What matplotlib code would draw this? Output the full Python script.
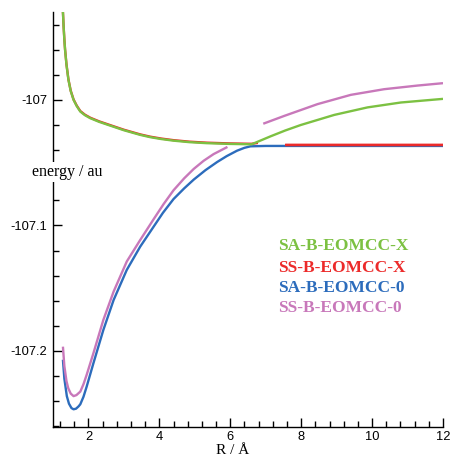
import numpy as np
import matplotlib
matplotlib.use("Agg")
import matplotlib.pyplot as plt
from matplotlib.ticker import MultipleLocator, FixedLocator, FixedFormatter

plt.rcParams['axes.unicode_minus'] = False

# SA-B-EOMCC-X (green)
r_sa_x = [1.26, 1.28, 1.30, 1.32, 1.34, 1.38, 1.435, 1.50, 1.58, 1.67, 1.77, 1.90, 2.05, 2.30, 2.56, 3.0, 3.46, 3.74,
          4.05, 4.4, 4.85, 5.34, 6.0, 6.6, 7.14, 7.55, 7.99, 8.93, 9.87, 10.81, 12.0]
e_sa_x = [-106.915, -106.930, -106.942, -106.952, -106.960, -106.972, -106.984, -106.993, -107.000, -107.005, -107.0093,
          -107.0122, -107.0146, -107.0175, -107.0200, -107.0242, -107.0279, -107.0297,
          -107.0312, -107.0325, -107.0337, -107.0345, -107.0351, -107.0354, -107.0290, -107.0244, -107.0200,
          -107.0120, -107.0060, -107.0021, -106.9992]

# SS-B-EOMCC-X (red); NaN marks the gap between the two branches
r_ss_x = [1.26, 1.28, 1.30, 1.32, 1.34, 1.38, 1.435, 1.50, 1.58, 1.67, 1.77, 1.90, 2.05, 2.30, 2.56, 3.0, 3.46, 3.74,
          4.05, 4.4, 4.85, 5.34, 6.0, 6.6, 6.78, 7.1, 7.55, 9.0, 10.5, 12.0]
e_ss_x = [-106.915, -106.930, -106.9417, -106.9517, -106.9597, -106.9717, -106.9837, -106.9927, -106.9997, -107.0046,
          -107.0089, -107.0118, -107.0142, -107.0171, -107.0196, -107.0238, -107.0275, -107.0293,
          -107.0308, -107.0321, -107.0333, -107.0341, -107.0347, -107.0350, -107.0343, np.nan,
          -107.0359, -107.0359, -107.0359, -107.0359]

# SA-B-EOMCC-0 (blue)
r_sa_0 = [1.28, 1.32, 1.39, 1.45, 1.52, 1.58, 1.65, 1.72, 1.77, 1.86, 1.95, 2.14, 2.42, 2.71, 3.08, 3.46, 3.85, 4.1,
          4.4, 4.7, 4.97, 5.3, 5.63, 5.9, 6.19, 6.4, 6.57, 7.0, 8.0, 9.0, 10.0, 11.0, 12.0]
e_sa_0 = [-107.207, -107.222, -107.236, -107.242, -107.2455, -107.2465, -107.246, -107.2442, -107.2425, -107.2365,
          -107.2284, -107.2098, -107.1833, -107.1594, -107.1355, -107.1169, -107.1005, -107.0900,
          -107.0790, -107.0705, -107.0635, -107.0560, -107.0495, -107.0448, -107.0405, -107.0382, -107.0370,
          -107.0367, -107.0367, -107.0367, -107.0367, -107.0367, -107.0367]

# SS-B-EOMCC-0 (pink); NaN marks the gap between the two branches
r_ss_0 = [1.28, 1.32, 1.38, 1.43, 1.50, 1.58, 1.66, 1.77, 1.86, 1.95, 2.14, 2.42, 2.71, 3.08, 3.46, 3.84, 4.12, 4.4,
          4.7, 4.97, 5.25, 5.53, 5.92, 6.4, 6.93, 7.52, 8.46, 9.4, 10.34, 11.28, 12.0]
e_ss_0 = [-107.1966, -107.212, -107.224, -107.2297, -107.234, -107.236, -107.2352, -107.2324, -107.2265, -107.219,
          -107.2018, -107.1753, -107.1527, -107.1288, -107.1116, -107.0950, -107.0830, -107.0720,
          -107.0625, -107.0550, -107.0485, -107.0432, -107.0375, np.nan, -107.0190, -107.0128, -107.0034,
          -106.9960, -106.9915, -106.9886, -106.9867]

labels = ["SA-B-EOMCC-X", "SS-B-EOMCC-X", "SA-B-EOMCC-0", "SS-B-EOMCC-0"]
colors = ["#7cc142", "#ec2a2a", "#2c6cbc", "#c878ba"]

y_ticks = [-107.2, -107.1, -107.0]
y_tick_labels = ["-107.2", "-107.1", "-107"]
x_ticks = [2, 4, 6, 8, 10, 12]

fig = plt.figure(figsize=(4.5, 4.58), dpi=100)
ax = fig.add_axes([53/450, 31/458, 390/450, 415/458])

kw = dict(lw=1.7, solid_joinstyle="round", solid_capstyle="butt")
split = r_ss_x.index(7.55)
ax.plot(r_ss_x, e_ss_x, color=colors[1], zorder=2, **kw)
ax.plot(r_sa_0, e_sa_0, color=colors[2], zorder=1, **kw)
ax.plot(r_ss_x[split:], e_ss_x[split:], color=colors[1], zorder=3, **kw)
ax.plot(r_sa_x, e_sa_x, color=colors[0], zorder=4, **kw)
ax.plot(r_ss_0, e_ss_0, color=colors[3], zorder=3, **kw)

ax.set_xlim(1, 12)
ax.set_ylim(-107.2606, -106.930)

for s in ["top", "right"]:
    ax.spines[s].set_visible(False)
for s in ["left", "bottom"]:
    ax.spines[s].set_linewidth(1.0)

ax.xaxis.set_major_locator(FixedLocator(x_ticks))
ax.xaxis.set_minor_locator(MultipleLocator(0.4))
ax.yaxis.set_major_locator(FixedLocator(y_ticks))
ax.yaxis.set_major_formatter(FixedFormatter(y_tick_labels))
ax.yaxis.set_minor_locator(MultipleLocator(0.02))

ax.tick_params(axis='both', which='both', direction='in', width=1.0)
ax.tick_params(axis='x', which='major', length=6.5, pad=3)
ax.tick_params(axis='x', which='minor', length=4.3)
ax.tick_params(axis='y', which='major', length=6.5, pad=4)
ax.tick_params(axis='y', which='minor', length=4.3)
for lab in ax.get_xticklabels() + ax.get_yticklabels():
    lab.set_fontfamily("Liberation Sans")
    lab.set_fontsize(9.3)

fig.text(233/450, 1 - 451/458, "R / Å", ha="center", va="center",
         family="Liberation Serif", fontsize=11)
fig.text(67/450, 1 - 172/458, "energy / au", ha="center", va="center",
         family="Liberation Serif", fontsize=11.5,
         bbox=dict(facecolor="white", edgecolor="none", pad=1.5), zorder=10)

ys = [246, 268, 288, 308]
for lab, col, yy in zip(labels, colors, ys):
    fig.text(278/450, 1 - yy/458, lab, ha="left", va="center", color=col,
             family="Liberation Serif", fontweight="bold", fontsize=12.5)

fig.savefig("out.png", dpi=100)
